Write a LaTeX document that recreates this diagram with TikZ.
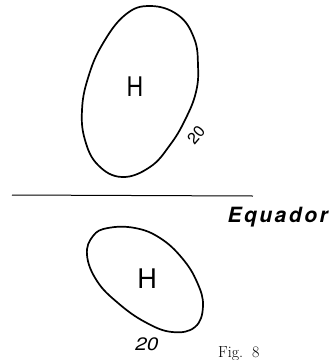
\documentclass[tikz,border=0pt]{standalone}
\usepackage{fontspec}
\setsansfont{TeX Gyre Heros}
\newfontfamily\eqfont[LetterSpace=12]{TeX Gyre Heros}
\tikzset{contorno/.style={line width=1.7pt,line join=round},
 letra/.style={font=\sffamily\fontsize{27}{27}\selectfont},
 grau/.style={font=\sffamily\fontsize{16}{16}\selectfont},
 every node/.style={inner sep=0pt}}

\begin{document}
\begin{tikzpicture}[x=1pt,y=-1pt]
\useasboundingbox (0,0) rectangle (330,360);
% mancha de cima
\draw[contorno] plot[smooth cycle,tension=.7] coordinates {(150,6) (178,15) (194,38) (198,65)
 (196,92) (185,120) (170,145) (150,167) (122,177) (98,165) (85,140) (82,110) (88,78)
 (102,45) (125,15)};
\node[letra,xscale=.85] (hcima) at (135,87) {H};
\node[grau,rotate=50] (gcima) at (196,135) {20};
% equador
\coordinate (eqa) at (12,195);
\coordinate (eqb) at (253,196);
\draw[line width=1pt] (eqa) -- (eqb);
\node[font=\eqfont\bfseries\itshape\fontsize{21}{21}\selectfont,anchor=base east] (equador) at (328,222) {Equador};
% mancha de baixo
\draw[contorno] plot[smooth cycle,tension=.7] coordinates {(108,228) (135,228) (160,238)
 (182,258) (197,282) (203,306) (195,327) (172,332) (145,322) (118,303) (97,281) (87,255)
 (93,236)};
\node[letra] (hbaixo) at (147,279) {H};
\node[font=\sffamily\itshape\fontsize{18}{18}\selectfont,anchor=base,xscale=1.15] (gbaixo) at (147,350) {20};
\node[font=\fontsize{16}{16}\selectfont\addfontfeature{LetterSpace=10},anchor=base west] (fig) at (218,357) {Fig.\hspace{9pt}8};
\end{tikzpicture}
\end{document}
